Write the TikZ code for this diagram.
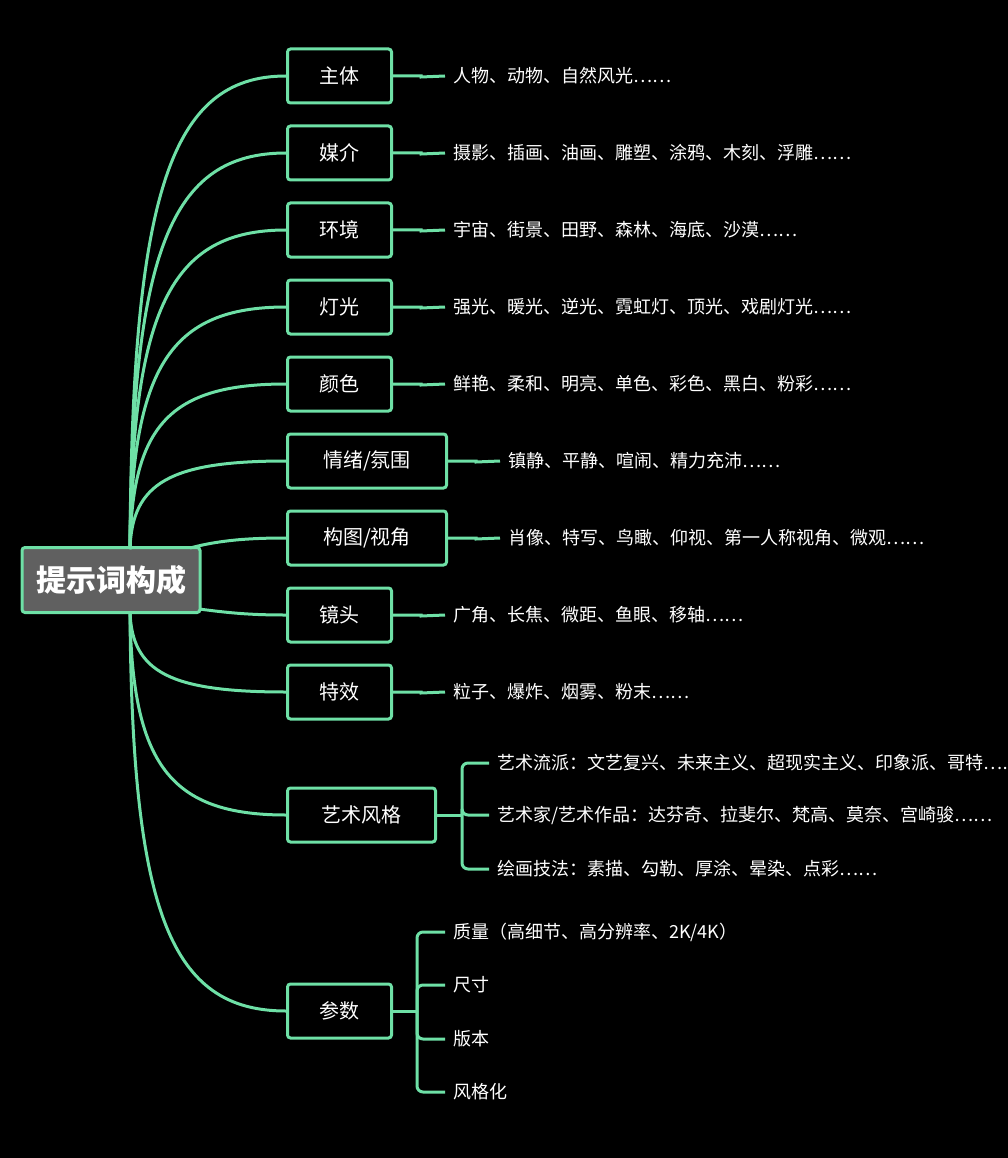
\documentclass[tikz,border=0pt]{standalone}
\usepackage{fontspec}
\setmainfont{Noto Sans CJK SC}
\definecolor{gr}{RGB}{110,224,166}
\tikzset{
 br/.style={draw=gr,line width=3pt,rounded corners=3pt,minimum height=54pt,inner sep=0pt,text=white,font=\fontsize{20}{20}\selectfont},
 lf/.style={anchor=west,text=white,inner sep=0pt,font=\fontsize{18}{18}\selectfont},
 cn/.style={draw=gr,line width=3pt},
}
\begin{document}
\begin{tikzpicture}[x=1pt,y=-1pt]
\fill[black] (0,0) rectangle (1008,1158);
\useasboundingbox (0,0) rectangle (1008,1158);
\clip (0,0) rectangle (1008,1158);
\node[br,fill=gray!75!black,minimum width=178pt,minimum height=65pt,font=\fontsize{30}{30}\selectfont\bfseries] (root) at (111,580) {提示词构成};
\foreach \n/\t/\y/\w/\l in {a/主体/76/104/人物、动物、自然风光……,
 b/媒介/153/104/摄影、插画、油画、雕塑、涂鸦、木刻、浮雕……,
 c/环境/230/104/宇宙、街景、田野、森林、海底、沙漠……,
 d/灯光/307/104/强光、暖光、逆光、霓虹灯、顶光、戏剧灯光……,
 e/颜色/384/104/鲜艳、柔和、明亮、单色、彩色、黑白、粉彩……,
 f/{情绪/氛围}/461/159/镇静、平静、喧闹、精力充沛……,
 g/{构图/视角}/538/159/肖像、特写、鸟瞰、仰视、第一人称视角、微观……,
 h/镜头/615/104/广角、长焦、微距、鱼眼、移轴……,
 i/特效/692/104/粒子、爆炸、烟雾、粉末……}{
 \node[br,minimum width=\w pt,anchor=west] (\n) at (286,\y) {\t};
 \node[lf] (\n t) at ([xshift=60pt]\n.east) {\l};
 \draw[cn] (\n.east) -- ++(28,0) -- ++(0,1) -- ([xshift=-8pt]\n t.west);
}
\node[br,minimum width=148pt,anchor=west] (j) at (286,815) {艺术风格};
\node[br,minimum width=104pt,anchor=west] (k) at (286,1011) {参数};
% root connectors
\foreach \n/\y in {a/76,b/153,c/230,d/307,e/384,f/461}{
 \draw[cn] (130,549) .. controls (132,{\y+(549-\y)*0.25}) and (170,\y) .. (\n.west);
}
\draw[cn] (190,548) .. controls (220,540) and (250,538) .. (g.west);
\draw[cn] (199,609) .. controls (230,613) and (250,615) .. (h.west);
\foreach \n/\y in {i/692,j/815,k/1011}{
 \draw[cn] (130,612) .. controls (132,{\y-(\y-612)*0.25}) and (170,\y) .. (\n.west);
}
% art style
\coordinate (jb) at (462,815);
\draw[cn] (j.east) -- (jb);
\foreach \y/\l [count=\i] in {763/{艺术流派：文艺复兴、未来主义、超现实主义、印象派、哥特……},815/{艺术家/艺术作品：达芬奇、拉斐尔、梵高、莫奈、宫崎骏……},869/{绘画技法：素描、勾勒、厚涂、晕染、点彩……}}{
 \node[lf] (jt\i) at (497,\y) {\l};
 \draw[cn,rounded corners=6pt] (jb) |- ([xshift=-8pt]jt\i.west);
}
\coordinate (kb) at (417,1011);
\draw[cn] (k.east) -- (kb);
\foreach \y/\l [count=\i] in {932/{质量（高细节、高分辨率、2K/4K）},985/尺寸,1039/版本,1092/风格化}{
 \node[lf] (kt\i) at (453,\y) {\l};
 \draw[cn,rounded corners=6pt] (kb) |- ([xshift=-8pt]kt\i.west);
}
\end{tikzpicture}
\end{document}
